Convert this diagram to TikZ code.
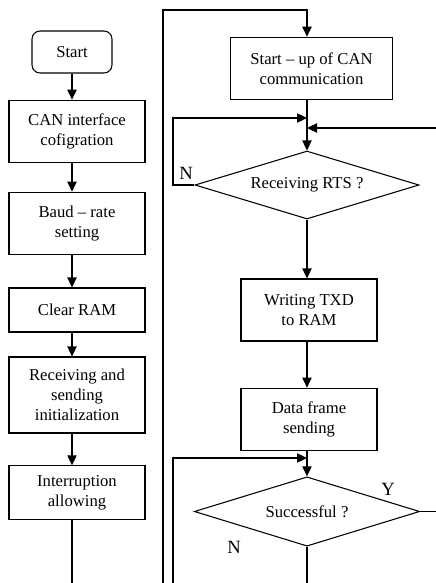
\documentclass[tikz,border=0pt]{standalone}
\usepackage{fontspec}
\setmainfont{Liberation Serif}
\usetikzlibrary{shapes.geometric,arrows.meta}

\tikzset{
  proc/.style={draw, line width=0.8pt, minimum width=102pt, align=center,
    inner sep=2pt, font=\fontsize{12.5}{15}\selectfont},
  test/.style={draw, line width=0.8pt, diamond, aspect=3.3, inner sep=0pt,
    minimum width=168pt, minimum height=51pt, font=\fontsize{12.5}{15}\selectfont},
  flow/.style={line width=0.8pt, -{Triangle[length=7.5pt,width=7pt]}},
  wire/.style={line width=0.8pt},
  yn/.style={font=\fontsize{14}{16}\selectfont}
}

\begin{document}
\begin{tikzpicture}[x=0.75pt,y=-0.75pt]
\useasboundingbox (0,0) rectangle (436,583);

% initialisation column
\node[proc, rounded corners=6pt, minimum width=60pt, minimum height=31.5pt] (start) at (72,52) {Start};
\node[proc, minimum height=47pt] (can) at (77,131.5) {CAN interface\\cofigration};
\node[proc, minimum height=47pt] (baud) at (77,223.5) {Baud -- rate\\setting};
\node[proc, minimum height=33pt] (clr) at (77,310) {Clear RAM};
\node[proc, minimum height=57pt] (init) at (77,395) {Receiving and\\sending\\initialization};
\node[proc, minimum height=40pt] (intr) at (77,492.5) {Interruption\\allowing};

\draw[flow] (start.south) -- (start.south |- can.north);
\draw[flow] (start.south |- can.south) -- (start.south |- baud.north);
\draw[flow] (start.south |- baud.south) -- (start.south |- clr.north);
\draw[flow] (start.south |- clr.south) -- (start.south |- init.north);
\draw[flow] (start.south |- init.south) -- (start.south |- intr.north);
\coordinate (out) at (72,583);
\draw[wire] (start.south |- intr.south) -- (out);

% sending column
\node[proc, minimum width=122pt, minimum height=47pt] (comm) at (311.5,68.5) {Start -- up of CAN\\communication};
\node[test] (rts) at (307,185) {Receiving RTS ?};
\node[proc, minimum height=46.5pt] (txd) at (309,310) {Writing TXD\\to RAM};
\node[proc, minimum height=47pt] (frame) at (309,419.5) {Data frame\\sending};
\node[test, minimum width=169pt, minimum height=52pt] (ok) at (307,511.5) {Successful ?};

\coordinate (top) at (163,10);
\coordinate (back) at (163,583);
\coordinate (j1) at (307,118);
\coordinate (j2) at (307,128);
\coordinate (j3) at (307,458);
\coordinate (fromr) at (436,128);
\coordinate (loop) at (173,583);
\coordinate (yes) at (436,511.5);
\coordinate (no) at (307,583);

\draw[flow] (back) -- (top) -| (comm.north -| j1);
\draw[flow] (comm.south -| j1) -- (rts.north);
\draw[flow] (rts.west) -- (173,185) |- (j1);
\draw[flow] (fromr) -- (j2);
\draw[flow] (rts.south) -- (txd.north -| rts.south);
\draw[flow] (txd.south -| rts.south) -- (frame.north -| rts.south);
\draw[flow] (frame.south -| ok.north) -- (ok.north);
\draw[flow] (loop) |- (j3);
\draw[wire] (ok.east) -- (yes);
\draw[wire] (ok.south) -- (no);

\node[yn] (n1) at (186,173) {N};
\node[yn] (y2) at (388,489) {Y};
\node[yn] (n2) at (234,547) {N};
\end{tikzpicture}
\end{document}
